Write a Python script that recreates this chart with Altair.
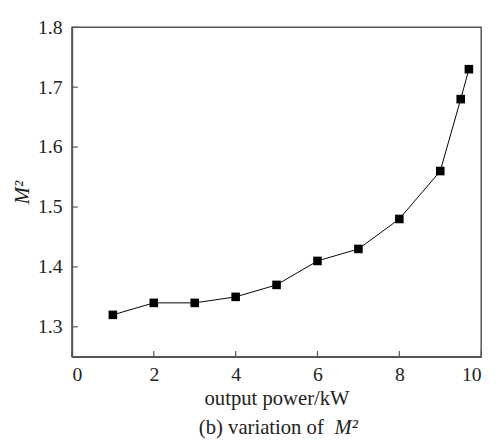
import altair as alt
import pandas as pd

power = [1, 2, 3, 4, 5, 6, 7, 8, 9, 9.5, 9.7]
m2 = [1.32, 1.34, 1.34, 1.35, 1.37, 1.41, 1.43, 1.48, 1.56, 1.68, 1.73]
x_ticks = [0, 2, 4, 6, 8, 10]
y_ticks = [1.3, 1.4, 1.5, 1.6, 1.7, 1.8]

df = pd.DataFrame({"power": power, "m2": m2})
FONT = "Liberation Serif"
GRAY = "#555555"
W, H = 416, 335

xs = alt.Scale(domain=[0, 10], nice=False)
ys = alt.Scale(domain=[1.25, 1.8], nice=False, zero=False)

x = alt.X("power:Q", scale=xs,
          axis=alt.Axis(values=x_ticks, title="output power/kW", grid=False, tickSize=0))
y = alt.Y("m2:Q", scale=ys,
          axis=alt.Axis(values=y_ticks, format=".1f", title="M²",
                        grid=False, titleFontStyle="italic", tickSize=0))

base = alt.Chart(df)
line = base.mark_line(color="black", strokeWidth=1).encode(x=x, y=y)
pts = base.mark_square(color="black", size=76, opacity=1).encode(x="power:Q", y="m2:Q")

xt = alt.Chart(pd.DataFrame({"v": x_ticks})).mark_rule(color=GRAY, strokeWidth=1.2).encode(
    x=alt.X("v:Q", scale=xs), y=alt.value(H), y2=alt.value(H - 6))
yt = alt.Chart(pd.DataFrame({"v": y_ticks})).mark_rule(color=GRAY, strokeWidth=1.2).encode(
    y=alt.Y("v:Q", scale=ys), x=alt.value(0), x2=alt.value(6))

cap1 = alt.Chart(pd.DataFrame({"t": ["(b) variation of"]})).mark_text(
    font=FONT, fontSize=21, align="left", baseline="alphabetic", color="#222"
).encode(x=alt.value(129), y=alt.value(413), text="t:N")
cap2 = alt.Chart(pd.DataFrame({"t": ["M²"]})).mark_text(
    font=FONT, fontSize=21, align="left", baseline="alphabetic", fontStyle="italic", color="#222"
).encode(x=alt.value(267), y=alt.value(413), text="t:N")

chart = (line + pts + xt + yt + cap1 + cap2).properties(
    width=W, height=H,
    autosize=alt.AutoSizeParams(type="none"),
    padding={"left": 65, "top": 16, "right": 11, "bottom": 80},
).configure_view(stroke=GRAY, strokeWidth=1.5).configure_axis(
    labelFont=FONT, titleFont=FONT, labelFontSize=20, titleFontSize=21,
    labelColor="#222", titleColor="#222", titleFontWeight="normal",
    domainColor=GRAY, domainWidth=1.5,
).configure_axisX(
    labelPadding=8, titlePadding=4,
).configure_axisY(
    labelPadding=10, titlePadding=5,
)

chart.save("out.html", embed_options={"renderer": "svg", "actions": False})
